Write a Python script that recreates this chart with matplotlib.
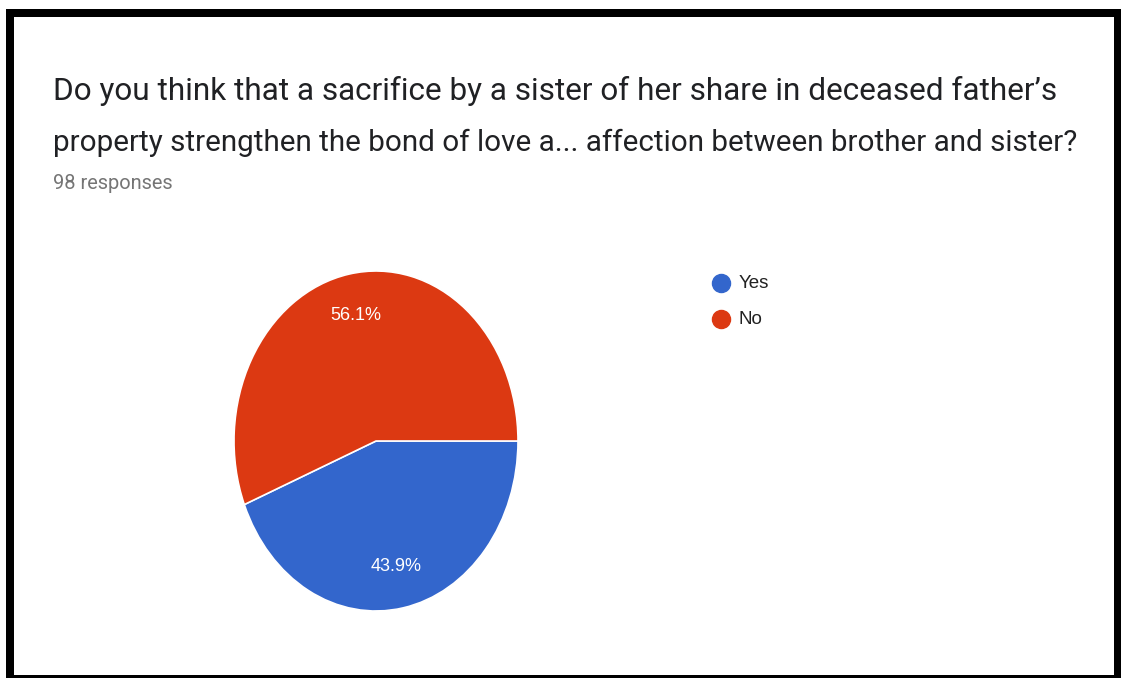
import matplotlib
matplotlib.use("Agg")
import matplotlib.pyplot as plt
from matplotlib.patches import Rectangle

title_lines = [
    "Do you think that a sacrifice by a sister of her share in deceased father\u2019s",
    "property strengthen the bond of love a... affection between brother and sister?",
]
subtitle = "98 responses"
labels = ["Yes", "No"]
shares = [43.9, 56.1]
colors = ["#3366CC", "#DC3912"]

W, H = 1121, 678
fig = plt.figure(figsize=(W / 100, H / 100), dpi=100)
fig.patch.set_facecolor("white")
plt.rcParams["font.family"] = ["Roboto", "DejaVu Sans"]

def fx(px):
    return px / W

def fy(py):
    return 1 - py / H

# black frame around the card
frame = fig.add_axes([0, 0, 1, 1])
frame.set_xlim(0, W)
frame.set_ylim(H, 0)
frame.axis("off")
for x0, y0, w, h in [(6, 9, W, 8), (6, 9, 8, H), (1114, 9, 10, H), (6, 675, W, 5)]:
    frame.add_patch(Rectangle((x0, y0), w, h, facecolor="black", edgecolor="none"))

# title and response count
fig.text(fx(53), fy(100), title_lines[0], fontsize=22.7, color="#202124", va="baseline", ha="left")
fig.text(fx(53), fy(151), title_lines[1], fontsize=21.35, color="#202124", va="baseline", ha="left")
fig.text(fx(53), fy(189), subtitle, fontsize=14.4, color="#757575", va="baseline", ha="left")

# pie
ax = fig.add_axes([fx(234), fy(611), fx(518) - fx(234), (611 - 271) / H])
wedges, _, autotexts = ax.pie(
    shares,
    colors=colors,
    startangle=0,
    counterclock=False,
    autopct="%.1f%%",
    pctdistance=0.75,
    wedgeprops=dict(edgecolor="white", linewidth=1.2),
    textprops=dict(color="white", fontsize=13, family=["Liberation Sans", "DejaVu Sans"]),
)
ax.set_aspect("auto")
ax.set_xlim(-1, 1)
ax.set_ylim(-1, 1)
ax.axis("off")

# legend
for i, (lab, col) in enumerate(zip(labels, colors)):
    y = 283 + 36 * i
    frame.plot(721, y, "o", markersize=13, color=col)
    frame.text(739, y, lab, fontsize=13.5, color="#222222", va="center", ha="left",
               family=["Liberation Sans", "DejaVu Sans"])

fig.savefig("out.png", dpi=100)
